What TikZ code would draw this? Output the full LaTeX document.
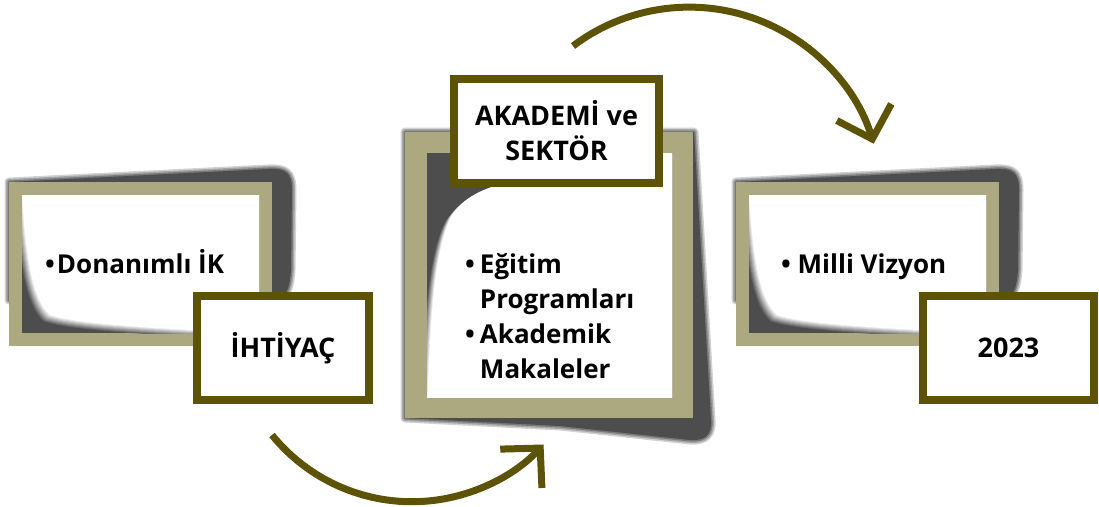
\documentclass[tikz,border=0pt]{standalone}
\usepackage{fontspec}
\setmainfont{Open Sans}
\usetikzlibrary{arrows.meta}
\definecolor{khaki}{RGB}{172,168,127}
\definecolor{olive}{RGB}{92,83,6}
\definecolor{shadowgray}{RGB}{77,77,77}
\newcommand\ShpShadowSide{(9,182) -- (268,169) .. controls (285,168) and (292,172) .. (292,190) -- (291,270) .. controls (290,285) and (287,295) .. (280,300) -- (9,300) -- cycle}
\newcommand\ShpCurlSide{(20,185) -- (270,185) -- (270,331) -- (190,330) .. controls (120,326) and (70,322) .. (50,315) .. controls (33,300) and (26,260) .. (22,195) -- cycle}
\newcommand\ShpShadowMid{(405,132) -- (694,132) -- (711,420) .. controls (712,435) and (705,441) .. (690,440) -- (560,426) -- (405,418) -- cycle}
\newcommand\ShpCurlMid{(480,140) -- (685,140) -- (685,410) -- (427,410) .. controls (430,330) and (433,250) .. (452,215) .. controls (465,195) and (490,185) .. (520,180) -- cycle}
\newcommand\DrawShadow[1]{%
  \foreach \ww/\cv in {9/25,6/50,3/75}{\filldraw[line width=\ww pt, line join=round, draw=shadowgray!\cv!white, fill=shadowgray!\cv!white] #1;}
  \fill[fill=shadowgray] #1;}
\newcommand\DrawCurl[1]{%
  \foreach \kk in {1,...,8}{\pgfmathsetmacro\dd{(8-\kk)*0.9}\pgfmathsetmacro\pp{\kk*12.5}\fill[fill=white!\pp!shadowgray, shift={(-\dd,\dd)}] #1;}}
\begin{document}
\begin{tikzpicture}[x=1pt,y=-1pt,
  lbl/.style={draw=olive, line width=8pt, fill=white, inner sep=0pt, font=\bfseries\fontsize{27}{35}\selectfont, align=center},
  txt/.style={font=\bfseries\fontsize{26}{35}\selectfont, inner sep=0pt, anchor=base west},
  flow/.style={draw=olive, line width=7pt, -{Straight Barb[length=28pt,width=57pt]}}]
\useasboundingbox (0,0) rectangle (1099,506);
% left panel
\DrawShadow{\ShpShadowSide}
\fill[khaki] (9,182) rectangle (272,346);
\begin{scope}
  \clip (22,195) rectangle (259,333);
  \fill[fill=shadowgray] (22,195) rectangle (259,333);
  \DrawCurl{\ShpCurlSide}
\end{scope}
% right panel
\begin{scope}[xshift=727pt]
\DrawShadow{\ShpShadowSide}
\fill[khaki] (9,182) rectangle (272,346);
\begin{scope}
  \clip (22,195) rectangle (259,333);
  \fill[fill=shadowgray] (22,195) rectangle (259,333);
  \DrawCurl{\ShpCurlSide}
\end{scope}
\end{scope}
% middle panel
\DrawShadow{\ShpShadowMid}
\fill[khaki] (405,132) rectangle (693,418);
\begin{scope}
  \clip (427,153) rectangle (672,397);
  \fill[fill=shadowgray] (427,153) rectangle (672,397);
  \DrawCurl{\ShpCurlMid}
\end{scope}
% texts
\node[txt] (tL) at (45,273) {•\hspace{2pt}Donanımlı İK};
\node[txt] (tM) at (465,273) {\begin{tabular}[t]{@{}l@{\hspace{5pt}}l@{}}•&Eğitim\\&Programları\\•&Akademik\\&Makaleler\end{tabular}};
\node[txt] (tR) at (781,273) {• Milli Vizyon};
% labels
\node[lbl, minimum width=172pt, minimum height=104pt] (lL) at (283,348) {İHTİYAÇ};
\node[lbl, minimum width=205pt, minimum height=104pt] (lM) at (556.5,131) {AKADEMİ ve\\SEKTÖR};
\node[lbl, minimum width=171pt, minimum height=104pt] (lR) at (1008.5,348) {2023};
% arrows
\coordinate (b0) at (272,435);
\coordinate (t0) at (573,46);
\draw[flow] (b0) arc[start angle=141, end angle=43, radius=180];
\draw[flow] (t0) arc[start angle=-127, end angle=-17, radius=193];
\end{tikzpicture}
\end{document}
